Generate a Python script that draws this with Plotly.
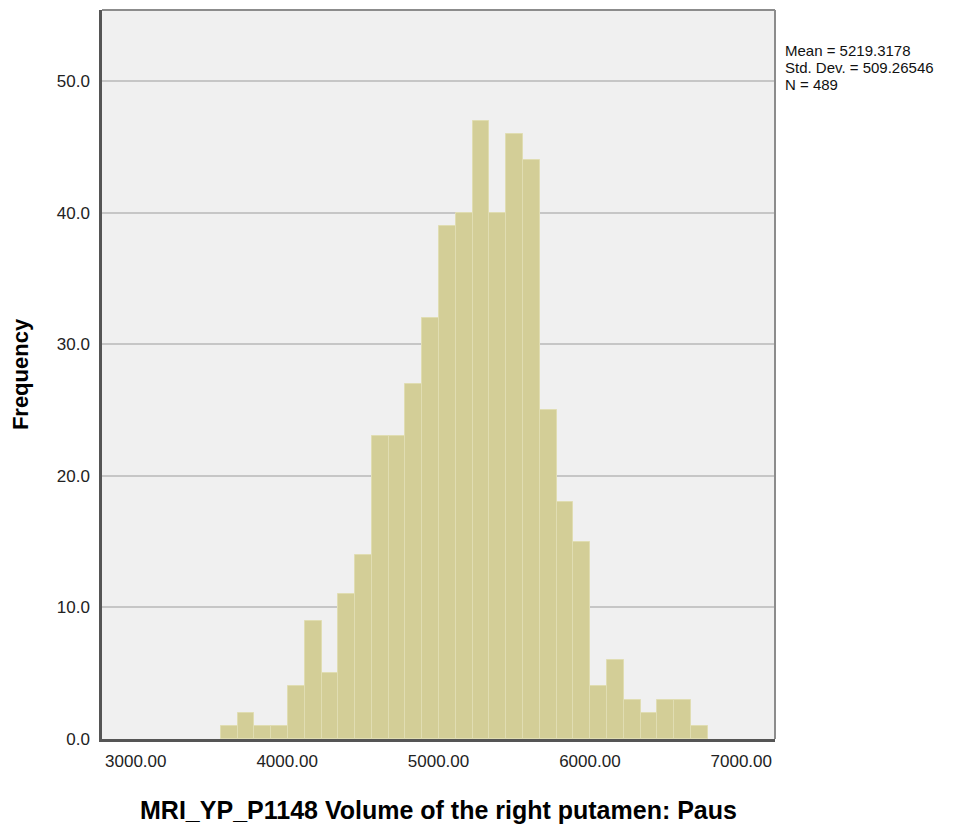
import numpy as np
import plotly.graph_objects as go

# ---- data ----
bin_start = 3562.0          # lower edge of first bin
bin_width = 110.9           # width of each bin
counts = [1, 2, 1, 1, 4, 9, 5, 11, 14, 23, 23, 27, 32, 39, 40, 47, 40, 46, 44,
          25, 18, 15, 4, 6, 3, 2, 3, 3, 1]
x_tick_vals = [3000, 4000, 5000, 6000, 7000]
y_tick_vals = [0, 10, 20, 30, 40, 50]
x_range = [2777, 7223]
y_range = [0, 55.4]
stats_lines = ["Mean = 5219.3178", "Std. Dev. = 509.26546", "N = 489"]
x_title = "MRI_YP_P1148 Volume of the right putamen: Paus"
y_title = "Frequency"

centers = bin_start + bin_width * (np.arange(len(counts)) + 0.5)

FONT = "Liberation Sans, Arial, sans-serif"

fig = go.Figure()
fig.add_trace(go.Bar(
    x=centers, y=counts, width=bin_width,
    marker=dict(color="#D3CE97", line=dict(color="#E0DDB2", width=1)),
    hoverinfo="x+y", showlegend=False,
))

fig.update_layout(
    width=964, height=819,
    margin=dict(l=94, r=197, t=2, b=88),
    paper_bgcolor="white", plot_bgcolor="#F0F0F0",
    bargap=0,
    font=dict(family=FONT, color="#222222"),
    xaxis=dict(
        range=x_range, tickvals=x_tick_vals,
        tickformat=".2f", showgrid=False, zeroline=False,
        showline=True, linecolor="#555555", linewidth=2.5,
        ticks="", ticklabelstandoff=5,
        tickfont=dict(size=17, family=FONT, color="#222222"),
        title=dict(text="<b>" + x_title + "</b>", standoff=32,
                   font=dict(size=25, family=FONT, color="#000000")),
    ),
    yaxis=dict(
        range=y_range, tickvals=y_tick_vals,
        tickformat=".1f", showgrid=True, gridcolor="#C6C6C6", gridwidth=2,
        zeroline=False, showline=True, linecolor="#555555", linewidth=2.5,
        ticks="", ticklabelstandoff=6,
        tickfont=dict(size=17, family=FONT, color="#222222"),
        title=dict(text="<b>" + y_title + "</b>", standoff=24,
                   font=dict(size=22, family=FONT, color="#000000")),
    ),
)

# lighter top and right frame edges
fig.add_shape(type="line", xref="paper", yref="paper", x0=0, x1=1, y0=1, y1=1,
              line=dict(color="#8C8C8C", width=2))
fig.add_shape(type="line", xref="paper", yref="paper", x0=1, x1=1, y0=0, y1=1,
              line=dict(color="#8C8C8C", width=2))

# statistics box text
for i, line in enumerate(stats_lines):
    fig.add_annotation(
        text=line, xref="paper", yref="paper",
        x=1.012, y=0.944 - i * 0.0233, xanchor="left", yanchor="middle",
        showarrow=False, align="left",
        font=dict(size=15, family=FONT, color="#111111"),
    )

fig.write_html("out.html")
